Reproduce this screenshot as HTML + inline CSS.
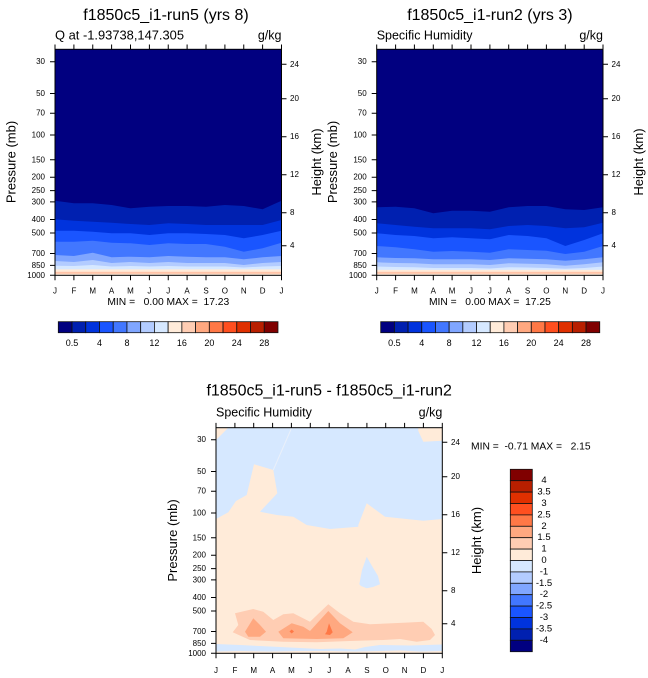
<!DOCTYPE html>
<html><head><meta charset="utf-8">
<style>
html,body{margin:0;padding:0;background:#fff;}
svg{display:block;}
text{font-family:"Liberation Sans",Arial,sans-serif;fill:#000;}
.t{font-size:16px;}
.s{font-size:12.5px;}
.tk{font-size:8px;}
.ax{font-size:13px;}
.mm{font-size:10.3px;white-space:pre;}
.cb{font-size:9px;}
</style></head>
<body>
<svg width="648" height="678" viewBox="0 0 648 678" xmlns="http://www.w3.org/2000/svg">
<defs>
<clipPath id="c1"><rect x="55" y="49.3" width="226.5" height="226"/></clipPath>
<clipPath id="c2"><rect x="376.7" y="49.3" width="226.3" height="226"/></clipPath>
<clipPath id="c3"><rect x="216" y="427.7" width="226.3" height="225.6"/></clipPath>
</defs>

<!-- ============ TOP LEFT ============ -->
<g clip-path="url(#c1)">
<rect x="55" y="49.3" width="226.5" height="226" fill="#010080"/>
<polygon fill="#0020b0" points="55,200.7 73.9,203.3 92.75,203.3 111.6,205 130.5,208.3 149.4,206.7 168.25,206 187.1,206 206,206.7 224.9,205 243.75,206 262.6,209.3 281.5,200.7 281.5,276 55,276"/>
<polygon fill="#0033dd" points="55,219.3 73.9,220.7 92.75,221.7 111.6,222.7 130.5,224 149.4,225 168.25,223.3 187.1,224 206,225 224.9,225 243.75,225 262.6,225 281.5,220 281.5,276 55,276"/>
<polygon fill="#1a55ff" points="55,230.7 73.9,230.7 92.75,231.7 111.6,233.3 130.5,233.3 149.4,235 168.25,233.3 187.1,233.3 206,234 224.9,235 243.75,238.3 262.6,235 281.5,230.7 281.5,276 55,276"/>
<polygon fill="#4277ff" points="55,241.7 73.9,241.7 92.75,240.7 111.6,242.7 130.5,243.3 149.4,245 168.25,243.3 187.1,244 206,244 224.9,246.7 243.75,251.7 262.6,248.3 281.5,242.7 281.5,276 55,276"/>
<polygon fill="#80a6ff" points="55,255 73.9,256 92.75,252.7 111.6,257.3 130.5,256.7 149.4,257.3 168.25,256 187.1,256.7 206,257.3 224.9,257.3 243.75,259.3 262.6,257.3 281.5,256 281.5,276 55,276"/>
<polygon fill="#b3ccff" points="55,261 73.9,262 92.75,260 111.6,263 130.5,262 149.4,263 168.25,262 187.1,263 206,263 224.9,263 243.75,265 262.6,263 281.5,262 281.5,276 55,276"/>
<polygon fill="#d6e8ff" points="55,265.7 73.9,266 92.75,265 111.6,266.5 130.5,266 149.4,266.5 168.25,266 187.1,266.5 206,266.5 224.9,266.5 243.75,267.5 262.6,266.5 281.5,266 281.5,276 55,276"/>
<rect x="55" y="269.3" width="226.5" height="7" fill="#ffebd9"/>
<rect x="55" y="271.8" width="226.5" height="2" fill="#ffc4a8"/>
</g>
<rect x="55" y="49.3" width="226.5" height="226" fill="none" stroke="#000" stroke-width="1"/>
<path stroke="#000" stroke-width="1" fill="none" d="
M50 61.7H55M50 93.5H55M50 113.2H55M50 135H55M50 159.8H55M50 177.2H55M50 190.6H55M50 201.9H55M50 219.5H55M50 233H55M50 253.5H55M50 265.4H55M50 275.3H55
M281.5 64.3H286.5M281.5 98.7H286.5M281.5 136.7H286.5M281.5 174.7H286.5M281.5 212.7H286.5M281.5 245.7H286.5
M55 49.3V44.5M73.9 49.3V44.5M92.75 49.3V44.5M111.6 49.3V44.5M130.5 49.3V44.5M149.4 49.3V44.5M168.25 49.3V44.5M187.1 49.3V44.5M206 49.3V44.5M224.9 49.3V44.5M243.75 49.3V44.5M262.6 49.3V44.5M281.5 49.3V44.5
M55 275.3V280.3M73.9 275.3V280.3M92.75 275.3V280.3M111.6 275.3V280.3M130.5 275.3V280.3M149.4 275.3V280.3M168.25 275.3V280.3M187.1 275.3V280.3M206 275.3V280.3M224.9 275.3V280.3M243.75 275.3V280.3M262.6 275.3V280.3M281.5 275.3V280.3"/>
<g class="tk" text-anchor="end" dominant-baseline="central">
<text x="45" y="61.7">30</text><text x="45" y="93.5">50</text><text x="45" y="113.2">70</text><text x="45" y="135">100</text><text x="45" y="159.8">150</text><text x="45" y="177.2">200</text><text x="45" y="190.6">250</text><text x="45" y="201.9">300</text><text x="45" y="219.5">400</text><text x="45" y="233">500</text><text x="45" y="253.5">700</text><text x="45" y="265.4">850</text><text x="45" y="275.3">1000</text>
</g>
<g class="tk" dominant-baseline="central">
<text x="290" y="64.3">24</text><text x="290" y="98.7">20</text><text x="290" y="136.7">16</text><text x="290" y="174.7">12</text><text x="290" y="212.7">8</text><text x="290" y="245.7">4</text>
</g>
<g class="tk" text-anchor="middle">
<text x="55" y="293.5">J</text><text x="73.9" y="293.5">F</text><text x="92.75" y="293.5">M</text><text x="111.6" y="293.5">A</text><text x="130.5" y="293.5">M</text><text x="149.4" y="293.5">J</text><text x="168.25" y="293.5">J</text><text x="187.1" y="293.5">A</text><text x="206" y="293.5">S</text><text x="224.9" y="293.5">O</text><text x="243.75" y="293.5">N</text><text x="262.6" y="293.5">D</text><text x="281.5" y="293.5">J</text>
</g>
<text class="t" x="166" y="20" text-anchor="middle">f1850c5_i1-run5 (yrs 8)</text>
<text x="55" y="39.3" style="font-size:12.9px">Q at -1.93738,147.305</text>
<text class="s" x="281.5" y="39.3" text-anchor="end">g/kg</text>
<text class="ax" transform="translate(15.5,162) rotate(-90)" text-anchor="middle">Pressure (mb)</text>
<text class="ax" transform="translate(321,162) rotate(-90)" text-anchor="middle">Height (km)</text>
<text class="mm" x="168.3" y="305" text-anchor="middle" xml:space="preserve">MIN =   0.00 MAX =  17.23</text>

<!-- colorbar top-left -->
<g stroke="#111" stroke-width="0.8">
<rect x="58.3" y="321.7" width="13.73" height="11" fill="#010080"/>
<rect x="72.03" y="321.7" width="13.73" height="11" fill="#0020b0"/>
<rect x="85.76" y="321.7" width="13.73" height="11" fill="#0033dd"/>
<rect x="99.49" y="321.7" width="13.73" height="11" fill="#1a55ff"/>
<rect x="113.22" y="321.7" width="13.73" height="11" fill="#4277ff"/>
<rect x="126.95" y="321.7" width="13.73" height="11" fill="#80a6ff"/>
<rect x="140.68" y="321.7" width="13.73" height="11" fill="#b3ccff"/>
<rect x="154.41" y="321.7" width="13.73" height="11" fill="#d6e8ff"/>
<rect x="168.14" y="321.7" width="13.73" height="11" fill="#ffebd9"/>
<rect x="181.87" y="321.7" width="13.73" height="11" fill="#ffcdb3"/>
<rect x="195.6" y="321.7" width="13.73" height="11" fill="#ffa880"/>
<rect x="209.33" y="321.7" width="13.73" height="11" fill="#ff7846"/>
<rect x="223.06" y="321.7" width="13.73" height="11" fill="#ff4f1f"/>
<rect x="236.79" y="321.7" width="13.73" height="11" fill="#e03000"/>
<rect x="250.52" y="321.7" width="13.73" height="11" fill="#b81f00"/>
<rect x="264.25" y="321.7" width="13.73" height="11" fill="#800000"/>
</g>
<g class="cb" text-anchor="middle">
<text x="72.03" y="346">0.5</text><text x="99.49" y="346">4</text><text x="126.95" y="346">8</text><text x="154.41" y="346">12</text><text x="181.87" y="346">16</text><text x="209.33" y="346">20</text><text x="236.79" y="346">24</text><text x="264.25" y="346">28</text>
</g>

<!-- ============ TOP RIGHT ============ -->
<g clip-path="url(#c2)">
<rect x="376.7" y="49.3" width="226.3" height="226" fill="#010080"/>
<polygon fill="#0020b0" points="376.7,207.3 395.6,206.7 414.4,208.3 433.3,213.3 452.1,210.7 471,210.7 489.9,211.7 508.7,207.3 527.6,206 546.4,206 565.3,209.3 584.2,210 603,207.3 603,276 376.7,276"/>
<polygon fill="#0033dd" points="376.7,223.3 395.6,225 414.4,226.7 433.3,228.3 452.1,228.3 471,228.3 489.9,229.3 508.7,226 527.6,225 546.4,226 565.3,228.3 584.2,227.3 603,222.7 603,276 376.7,276"/>
<polygon fill="#1a55ff" points="376.7,233.3 395.6,235 414.4,236 433.3,238.3 452.1,237.3 471,238.3 489.9,239.3 508.7,235 527.6,236 546.4,238.3 565.3,246 584.2,240 603,233.3 603,276 376.7,276"/>
<polygon fill="#4277ff" points="376.7,246 395.6,247.3 414.4,249.3 433.3,251.7 452.1,251 471,251.7 489.9,252.7 508.7,249.3 527.6,250 546.4,250.7 565.3,254 584.2,251.7 603,246 603,276 376.7,276"/>
<polygon fill="#80a6ff" points="376.7,257.3 395.6,258 414.4,258.3 433.3,259.3 452.1,259.3 471,259.3 489.9,260 508.7,258.3 527.6,258.7 546.4,259.3 565.3,260.7 584.2,259.3 603,257.3 603,276 376.7,276"/>
<polygon fill="#b3ccff" points="376.7,262.3 395.6,263 414.4,263.3 433.3,264.3 452.1,264.3 471,264.3 489.9,265 508.7,263.3 527.6,263.7 546.4,264.3 565.3,265.7 584.2,264.3 603,262.3 603,276 376.7,276"/>
<polygon fill="#d6e8ff" points="376.7,266.5 395.6,267 414.4,267.2 433.3,268 452.1,268 471,268 489.9,268.5 508.7,267.2 527.6,267.5 546.4,268 565.3,268.8 584.2,268 603,266.5 603,276 376.7,276"/>
<rect x="376.7" y="269.8" width="226.3" height="6" fill="#ffebd9"/>
<rect x="376.7" y="271.8" width="226.3" height="2" fill="#ffc4a8"/>
</g>
<rect x="376.7" y="49.3" width="226.3" height="226" fill="none" stroke="#000" stroke-width="1"/>
<path stroke="#000" stroke-width="1" fill="none" d="
M371.7 61.7H376.7M371.7 93.5H376.7M371.7 113.2H376.7M371.7 135H376.7M371.7 159.8H376.7M371.7 177.2H376.7M371.7 190.6H376.7M371.7 201.9H376.7M371.7 219.5H376.7M371.7 233H376.7M371.7 253.5H376.7M371.7 265.4H376.7M371.7 275.3H376.7
M603 64.3H608M603 98.7H608M603 136.7H608M603 174.7H608M603 212.7H608M603 245.7H608
M376.7 49.3V44.5M395.6 49.3V44.5M414.4 49.3V44.5M433.3 49.3V44.5M452.1 49.3V44.5M471 49.3V44.5M489.9 49.3V44.5M508.7 49.3V44.5M527.6 49.3V44.5M546.4 49.3V44.5M565.3 49.3V44.5M584.2 49.3V44.5M603 49.3V44.5
M376.7 275.3V280.3M395.6 275.3V280.3M414.4 275.3V280.3M433.3 275.3V280.3M452.1 275.3V280.3M471 275.3V280.3M489.9 275.3V280.3M508.7 275.3V280.3M527.6 275.3V280.3M546.4 275.3V280.3M565.3 275.3V280.3M584.2 275.3V280.3M603 275.3V280.3"/>
<g class="tk" text-anchor="end" dominant-baseline="central">
<text x="366.7" y="61.7">30</text><text x="366.7" y="93.5">50</text><text x="366.7" y="113.2">70</text><text x="366.7" y="135">100</text><text x="366.7" y="159.8">150</text><text x="366.7" y="177.2">200</text><text x="366.7" y="190.6">250</text><text x="366.7" y="201.9">300</text><text x="366.7" y="219.5">400</text><text x="366.7" y="233">500</text><text x="366.7" y="253.5">700</text><text x="366.7" y="265.4">850</text><text x="366.7" y="275.3">1000</text>
</g>
<g class="tk" dominant-baseline="central">
<text x="611.5" y="64.3">24</text><text x="611.5" y="98.7">20</text><text x="611.5" y="136.7">16</text><text x="611.5" y="174.7">12</text><text x="611.5" y="212.7">8</text><text x="611.5" y="245.7">4</text>
</g>
<g class="tk" text-anchor="middle">
<text x="376.7" y="293.5">J</text><text x="395.6" y="293.5">F</text><text x="414.4" y="293.5">M</text><text x="433.3" y="293.5">A</text><text x="452.1" y="293.5">M</text><text x="471" y="293.5">J</text><text x="489.9" y="293.5">J</text><text x="508.7" y="293.5">A</text><text x="527.6" y="293.5">S</text><text x="546.4" y="293.5">O</text><text x="565.3" y="293.5">N</text><text x="584.2" y="293.5">D</text><text x="603" y="293.5">J</text>
</g>
<text class="t" x="489.9" y="20" text-anchor="middle">f1850c5_i1-run2 (yrs 3)</text>
<text class="s" x="376.7" y="39.3">Specific Humidity</text>
<text class="s" x="603" y="39.3" text-anchor="end">g/kg</text>
<text class="ax" transform="translate(337,162) rotate(-90)" text-anchor="middle">Pressure (mb)</text>
<text class="ax" transform="translate(643,162) rotate(-90)" text-anchor="middle">Height (km)</text>
<text class="mm" x="489.9" y="305" text-anchor="middle" xml:space="preserve">MIN =   0.00 MAX =  17.25</text>

<!-- colorbar top-right -->
<g stroke="#111" stroke-width="0.8">
<rect x="380.7" y="321.7" width="13.69" height="11" fill="#010080"/>
<rect x="394.39" y="321.7" width="13.69" height="11" fill="#0020b0"/>
<rect x="408.08" y="321.7" width="13.69" height="11" fill="#0033dd"/>
<rect x="421.77" y="321.7" width="13.69" height="11" fill="#1a55ff"/>
<rect x="435.46" y="321.7" width="13.69" height="11" fill="#4277ff"/>
<rect x="449.15" y="321.7" width="13.69" height="11" fill="#80a6ff"/>
<rect x="462.84" y="321.7" width="13.69" height="11" fill="#b3ccff"/>
<rect x="476.53" y="321.7" width="13.69" height="11" fill="#d6e8ff"/>
<rect x="490.22" y="321.7" width="13.69" height="11" fill="#ffebd9"/>
<rect x="503.91" y="321.7" width="13.69" height="11" fill="#ffcdb3"/>
<rect x="517.6" y="321.7" width="13.69" height="11" fill="#ffa880"/>
<rect x="531.29" y="321.7" width="13.69" height="11" fill="#ff7846"/>
<rect x="544.98" y="321.7" width="13.69" height="11" fill="#ff4f1f"/>
<rect x="558.67" y="321.7" width="13.69" height="11" fill="#e03000"/>
<rect x="572.36" y="321.7" width="13.69" height="11" fill="#b81f00"/>
<rect x="586.05" y="321.7" width="13.69" height="11" fill="#800000"/>
</g>
<g class="cb" text-anchor="middle">
<text x="394.39" y="346">0.5</text><text x="421.77" y="346">4</text><text x="449.15" y="346">8</text><text x="476.53" y="346">12</text><text x="503.91" y="346">16</text><text x="531.29" y="346">20</text><text x="558.67" y="346">24</text><text x="586.05" y="346">28</text>
</g>

<!-- ============ BOTTOM ============ -->
<g clip-path="url(#c3)">
<rect x="216" y="427.7" width="226.3" height="225.6" fill="#d6e8ff"/>
<polygon fill="#ffebd9" points="216,519 228.3,512.3 236,501 246.7,495 254,464.3 273.3,470 277.3,493.3 260,511.7 276.7,515 293.3,516.7 306.7,525 330,529 358.3,526.7 358.3,525 366.7,503.3 385,516.7 423.3,520.7 442.3,519 442.3,654 216,654"/>
<polygon fill="#ffebd9" points="216,427.7 228.3,427.7 216,440"/>
<polygon fill="#ffebd9" points="418.3,427.7 442.3,427.7 442.3,440.7 423.3,441.7 418.3,431"/>
<line x1="291.7" y1="427.7" x2="273.3" y2="470" stroke="#eaf0fa" stroke-width="1"/>
<polygon fill="#d6e8ff" points="366.7,556.7 372,566 378,576 380,584.3 373,587 366.7,588.3 361,586 359.3,584.3 362,570"/>
<polygon fill="#ffcdb3" points="235,613.3 253.3,609 263.3,611.7 273.3,620 283.3,614.3 293.3,613.3 310,621.7 328.3,604.3 340,613.3 353.3,621.7 370,624.3 403.3,622.7 423.3,621.7 431.7,629 435,635 430,640 416.7,641.7 400,639 383.3,640 350,641 316.7,642.3 283.3,641.7 250,640 232.7,632.3 238.3,625"/>
<polygon fill="#ffa880" points="245,631.7 253.3,618.3 260,625 266,631.7 260,636.7 248.3,636.7"/>
<polygon fill="#ffa880" points="278.3,631.7 291.7,623.3 303.3,626.7 310,631 328.3,611 340,623.3 352.7,632.3 343.3,638.3 316.7,639 283.3,638.3"/>
<polygon fill="#ff7846" points="326.7,631.7 329,623.3 332.7,632.3 330,635 325,634.3"/>
<polygon fill="#ff7846" points="289.5,631.5 291.7,629.5 294,631.5 291.7,633.5"/>
<polygon fill="#d6e8ff" points="216,644 240,645 270,646.5 300,648 320,649 340,648.5 355,649.5 365,647 380,645 410,645.5 442.3,644.5 442.3,651 420,651.5 400,650.5 380,651 355,651.5 330,651 300,651 270,651.5 240,651 216,651.5"/>
</g>
<rect x="216" y="427.7" width="226.3" height="225.6" fill="none" stroke="#000" stroke-width="1"/>
<path stroke="#000" stroke-width="1" fill="none" d="
M211 439.7H216M211 471.5H216M211 491.2H216M211 513H216M211 537.8H216M211 555.2H216M211 568.6H216M211 579.9H216M211 597.5H216M211 611H216M211 631.5H216M211 643.4H216M211 653.3H216
M442.3 442.3H447.3M442.3 476.7H447.3M442.3 514.7H447.3M442.3 552.7H447.3M442.3 590.7H447.3M442.3 623.7H447.3
M216 427.7V422.9M234.9 427.7V422.9M253.7 427.7V422.9M272.6 427.7V422.9M291.4 427.7V422.9M310.3 427.7V422.9M329.2 427.7V422.9M348 427.7V422.9M366.9 427.7V422.9M385.7 427.7V422.9M404.6 427.7V422.9M423.4 427.7V422.9M442.3 427.7V422.9
M216 653.3V658.3M234.9 653.3V658.3M253.7 653.3V658.3M272.6 653.3V658.3M291.4 653.3V658.3M310.3 653.3V658.3M329.2 653.3V658.3M348 653.3V658.3M366.9 653.3V658.3M385.7 653.3V658.3M404.6 653.3V658.3M423.4 653.3V658.3M442.3 653.3V658.3"/>
<g class="tk" text-anchor="end" dominant-baseline="central">
<text x="206" y="439.7">30</text><text x="206" y="471.5">50</text><text x="206" y="491.2">70</text><text x="206" y="513">100</text><text x="206" y="537.8">150</text><text x="206" y="555.2">200</text><text x="206" y="568.6">250</text><text x="206" y="579.9">300</text><text x="206" y="597.5">400</text><text x="206" y="611">500</text><text x="206" y="631.5">700</text><text x="206" y="643.4">850</text><text x="206" y="653.3">1000</text>
</g>
<g class="tk" dominant-baseline="central">
<text x="451" y="442.3">24</text><text x="451" y="476.7">20</text><text x="451" y="514.7">16</text><text x="451" y="552.7">12</text><text x="451" y="590.7">8</text><text x="451" y="623.7">4</text>
</g>
<g class="tk" text-anchor="middle">
<text x="216" y="672.8">J</text><text x="234.9" y="672.8">F</text><text x="253.7" y="672.8">M</text><text x="272.6" y="672.8">A</text><text x="291.4" y="672.8">M</text><text x="310.3" y="672.8">J</text><text x="329.2" y="672.8">J</text><text x="348" y="672.8">A</text><text x="366.9" y="672.8">S</text><text x="385.7" y="672.8">O</text><text x="404.6" y="672.8">N</text><text x="423.4" y="672.8">D</text><text x="442.3" y="672.8">J</text>
</g>
<text class="t" x="329.2" y="395.7" text-anchor="middle">f1850c5_i1-run5 - f1850c5_i1-run2</text>
<text class="s" x="216" y="416.7">Specific Humidity</text>
<text class="s" x="442.3" y="416.7" text-anchor="end">g/kg</text>
<text class="ax" transform="translate(177,540.5) rotate(-90)" text-anchor="middle">Pressure (mb)</text>
<text class="ax" transform="translate(481,540.5) rotate(-90)" text-anchor="middle">Height (km)</text>
<text class="mm" x="471" y="449.3" xml:space="preserve">MIN =  -0.71 MAX =   2.15</text>

<!-- vertical colorbar -->
<g stroke="#111" stroke-width="0.8">
<rect x="510.3" y="469.3" width="22" height="11.4" fill="#800000"/>
<rect x="510.3" y="480.7" width="22" height="11.4" fill="#b81f00"/>
<rect x="510.3" y="492.1" width="22" height="11.4" fill="#e03000"/>
<rect x="510.3" y="503.5" width="22" height="11.4" fill="#ff4f1f"/>
<rect x="510.3" y="514.9" width="22" height="11.4" fill="#ff7846"/>
<rect x="510.3" y="526.3" width="22" height="11.4" fill="#ffa880"/>
<rect x="510.3" y="537.7" width="22" height="11.4" fill="#ffcdb3"/>
<rect x="510.3" y="549.1" width="22" height="11.4" fill="#ffebd9"/>
<rect x="510.3" y="560.5" width="22" height="11.4" fill="#d6e8ff"/>
<rect x="510.3" y="571.9" width="22" height="11.4" fill="#b3ccff"/>
<rect x="510.3" y="583.3" width="22" height="11.4" fill="#80a6ff"/>
<rect x="510.3" y="594.7" width="22" height="11.4" fill="#4277ff"/>
<rect x="510.3" y="606.1" width="22" height="11.4" fill="#1a55ff"/>
<rect x="510.3" y="617.5" width="22" height="11.4" fill="#0033dd"/>
<rect x="510.3" y="628.9" width="22" height="11.4" fill="#0020b0"/>
<rect x="510.3" y="640.3" width="22" height="11.4" fill="#010080"/>
</g>
<g text-anchor="middle" dominant-baseline="central" style="font-size:9.5px">
<text x="544" y="480.7">4</text><text x="544" y="492.1">3.5</text><text x="544" y="503.5">3</text><text x="544" y="514.9">2.5</text><text x="544" y="526.3">2</text><text x="544" y="537.7">1.5</text><text x="544" y="549.1">1</text><text x="544" y="560.5">0</text><text x="544" y="571.9">-1</text><text x="544" y="583.3">-1.5</text><text x="544" y="594.7">-2</text><text x="544" y="606.1">-2.5</text><text x="544" y="617.5">-3</text><text x="544" y="628.9">-3.5</text><text x="544" y="640.3">-4</text>
</g>
</svg>
</body></html>
